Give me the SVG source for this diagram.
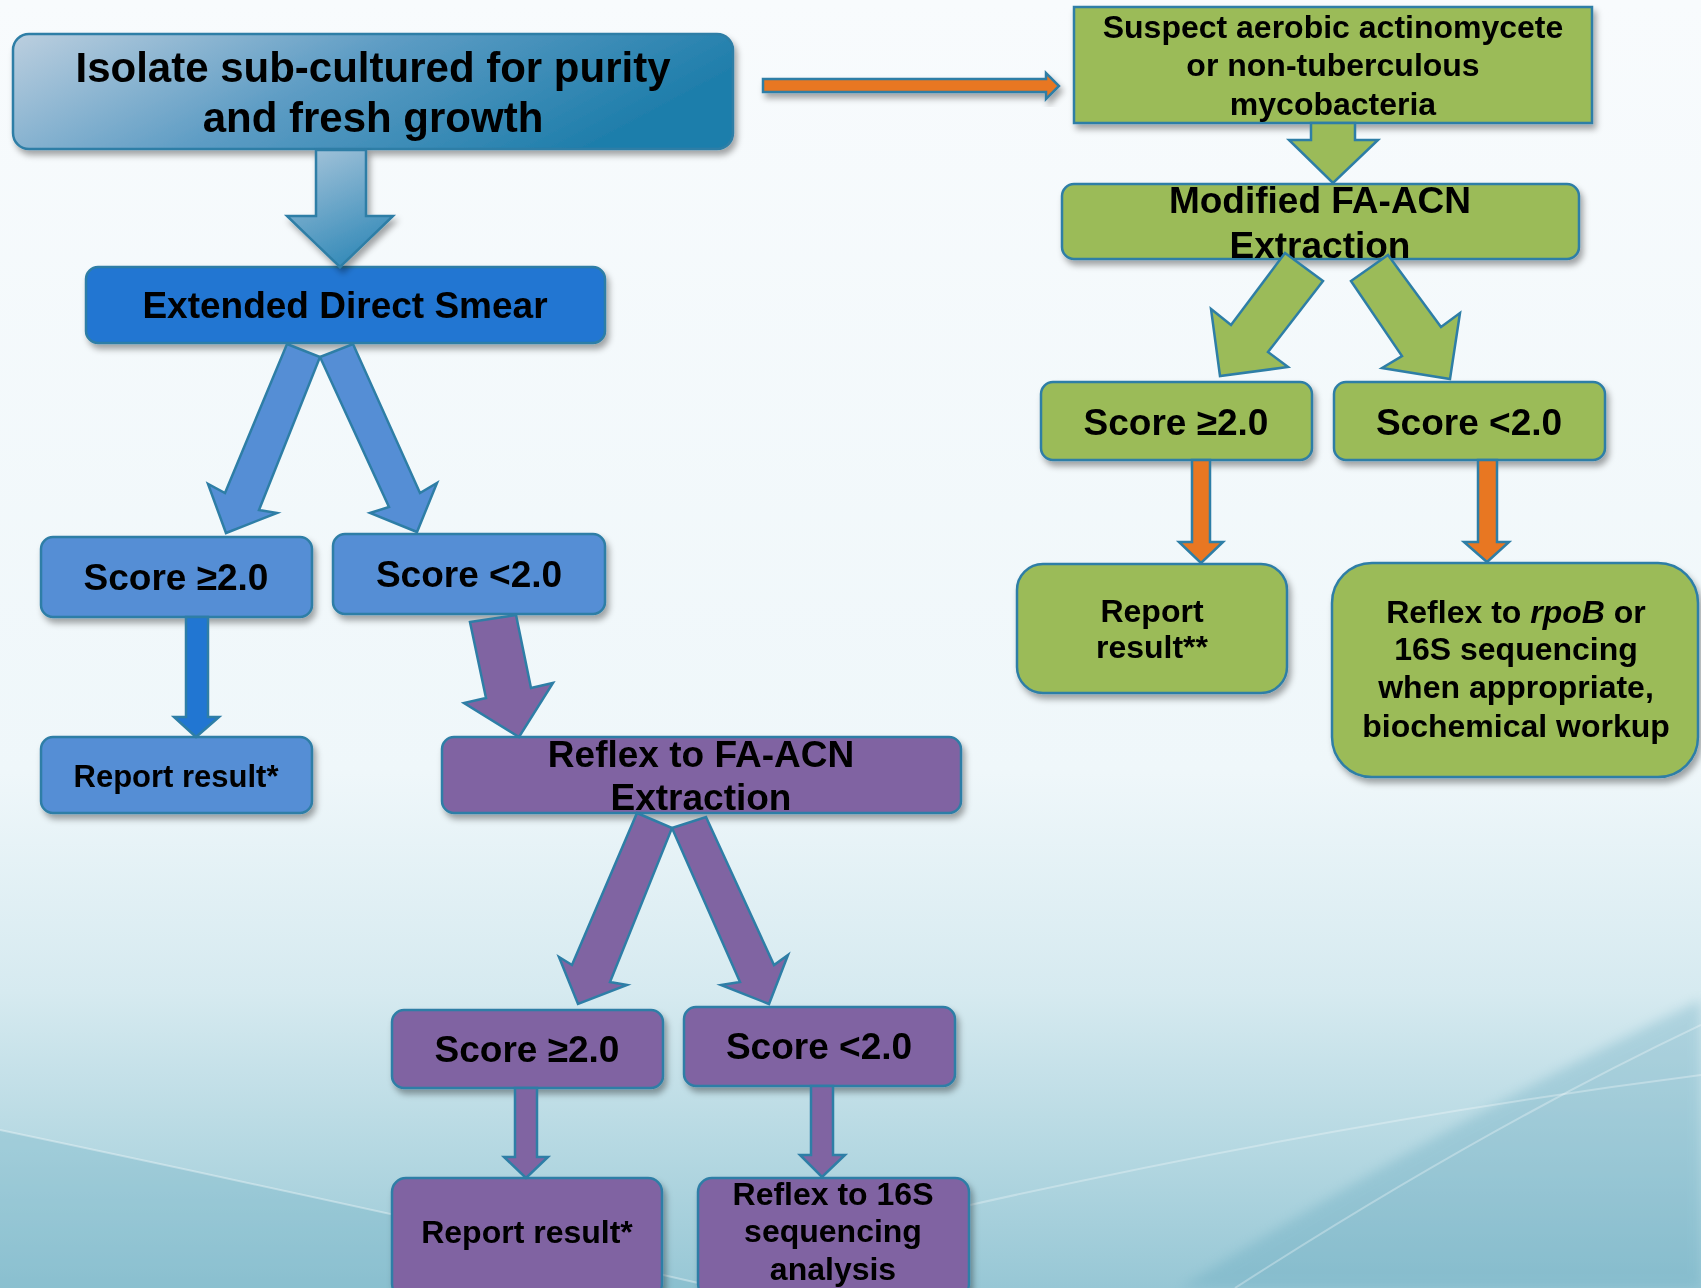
<svg xmlns="http://www.w3.org/2000/svg" width="1701" height="1288" viewBox="0 0 1701 1288">
<defs>
<linearGradient id="bg" x1="0" y1="0" x2="0" y2="1">
<stop offset="0" stop-color="#f8fbfd"/>
<stop offset="0.6" stop-color="#eff7fa"/>
<stop offset="0.77" stop-color="#d6eaf0"/>
<stop offset="0.9" stop-color="#b3d7e1"/>
<stop offset="1" stop-color="#97c7d5"/>
</linearGradient>
<linearGradient id="topg" x1="0" y1="0" x2="1" y2="0.3">
<stop offset="0" stop-color="#bccfdf"/>
<stop offset="0.5" stop-color="#5d9cc4"/>
<stop offset="1" stop-color="#1f7eab"/>
</linearGradient>
<linearGradient id="arrg" x1="0" y1="0" x2="0.4" y2="1">
<stop offset="0" stop-color="#a9c6db"/>
<stop offset="1" stop-color="#3a8dba"/>
</linearGradient>
<filter id="sh" x="-10%" y="-10%" width="125%" height="140%">
<feDropShadow dx="3" dy="5" stdDeviation="3" flood-color="#000" flood-opacity="0.35"/>
</filter>
<filter id="soft" x="-5%" y="-5%" width="110%" height="110%">
<feGaussianBlur stdDeviation="6"/>
</filter>
<style>
.t{font-family:"Liberation Sans",Arial,sans-serif;font-weight:bold;fill:#000;text-anchor:middle}
.s{stroke:#2e7ea6;stroke-width:2.5}
.bd{fill:#2176d2}
.bl{fill:#558ed5}
.pu{fill:#8064a2}
.gr{fill:#9bbb59}
.or{fill:#e87722}
</style>
</defs>
<rect width="1701" height="1288" fill="url(#bg)"/>
<path d="M0,1130 Q380,1210 720,1288 L0,1288 Z" fill="#6eaec3" opacity="0.3"/>
<path d="M1180,1288 Q1450,1120 1701,1000 L1701,1288 Z" fill="#5ea4bb" opacity="0.3" filter="url(#soft)"/>
<path d="M0,1130 Q380,1210 720,1288" fill="none" stroke="#ffffff" stroke-width="2" opacity="0.35"/>
<path d="M970,1205 Q1350,1120 1701,1075" fill="none" stroke="#ffffff" stroke-width="2" opacity="0.3"/>
<path d="M1235,1288 Q1480,1130 1701,1025" fill="none" stroke="#ffffff" stroke-width="2" opacity="0.3"/>

<g id="n-isolate" filter="url(#sh)">
<rect x="13" y="34" width="720" height="115" rx="16" fill="url(#topg)" class="s"/>
<text class="t" x="373" y="82" font-size="42">Isolate sub-cultured for purity</text>
<text class="t" x="373" y="132" font-size="42">and fresh growth</text>
</g>
<g id="n-eds" filter="url(#sh)">
<rect x="86" y="267" width="519" height="76" rx="12" class="bd s"/>
<text class="t" x="345" y="318" font-size="37">Extended Direct Smear</text>
</g>
<g id="n-b-ge" filter="url(#sh)">
<rect x="41" y="537" width="271" height="80" rx="12" class="bl s"/>
<text class="t" x="176" y="590" font-size="37">Score ≥2.0</text>
</g>
<g id="n-b-lt" filter="url(#sh)">
<rect x="333" y="534" width="272" height="80" rx="12" class="bl s"/>
<text class="t" x="469" y="587" font-size="37">Score &lt;2.0</text>
</g>
<g id="n-b-report" filter="url(#sh)">
<rect x="41" y="737" width="271" height="76" rx="12" class="bl s"/>
<text class="t" x="176" y="787" font-size="31">Report result*</text>
</g>
<g id="n-reflex-fa" filter="url(#sh)">
<rect x="442" y="737" width="519" height="76" rx="12" class="pu s"/>
<text class="t" x="701" y="767" font-size="37">Reflex to FA-ACN</text>
<text class="t" x="701" y="810" font-size="37">Extraction</text>
</g>
<g id="n-p-ge" filter="url(#sh)">
<rect x="392" y="1010" width="271" height="78" rx="12" class="pu s"/>
<text class="t" x="527" y="1062" font-size="37">Score ≥2.0</text>
</g>
<g id="n-p-lt" filter="url(#sh)">
<rect x="684" y="1007" width="271" height="79" rx="12" class="pu s"/>
<text class="t" x="819" y="1059" font-size="37">Score &lt;2.0</text>
</g>
<g id="n-p-report" filter="url(#sh)">
<rect x="392" y="1178" width="270" height="120" rx="14" class="pu s"/>
<text class="t" x="527" y="1243" font-size="32">Report result*</text>
</g>
<g id="n-p-16s" filter="url(#sh)">
<rect x="698" y="1178" width="271" height="120" rx="14" class="pu s"/>
<text class="t" x="833" y="1205" font-size="32">Reflex to 16S</text>
<text class="t" x="833" y="1242" font-size="32">sequencing</text>
<text class="t" x="833" y="1280" font-size="32">analysis</text>
</g>
<g id="n-suspect" filter="url(#sh)">
<rect x="1074" y="7" width="518" height="116" class="gr s"/>
<text class="t" x="1333" y="38" font-size="32">Suspect aerobic actinomycete</text>
<text class="t" x="1333" y="76" font-size="32">or non-tuberculous</text>
<text class="t" x="1333" y="115" font-size="32">mycobacteria</text>
</g>
<g id="n-modified" filter="url(#sh)">
<rect x="1062" y="184" width="517" height="75" rx="12" class="gr s"/>
<text class="t" x="1320" y="213" font-size="37">Modified FA-ACN</text>
<text class="t" x="1320" y="258" font-size="37">Extraction</text>
</g>
<g id="n-g-ge" filter="url(#sh)">
<rect x="1041" y="382" width="271" height="78" rx="12" class="gr s"/>
<text class="t" x="1176" y="435" font-size="37">Score ≥2.0</text>
</g>
<g id="n-g-lt" filter="url(#sh)">
<rect x="1334" y="382" width="271" height="78" rx="12" class="gr s"/>
<text class="t" x="1469" y="435" font-size="37">Score &lt;2.0</text>
</g>
<g id="n-g-report" filter="url(#sh)">
<rect x="1017" y="564" width="270" height="129" rx="26" class="gr s"/>
<text class="t" x="1152" y="622" font-size="32">Report</text>
<text class="t" x="1152" y="658" font-size="32">result**</text>
</g>
<g id="n-g-rpob" filter="url(#sh)">
<rect x="1332" y="563" width="366" height="214" rx="40" class="gr s"/>
<text class="t" x="1516" y="623" font-size="32">Reflex to <tspan font-style="italic">rpoB</tspan> or</text>
<text class="t" x="1516" y="660" font-size="32">16S sequencing</text>
<text class="t" x="1516" y="698" font-size="32">when appropriate,</text>
<text class="t" x="1516" y="737" font-size="32">biochemical workup</text>
</g>

<g id="connectors" stroke-linejoin="miter">
<polygon filter="url(#sh)" points="316,150 366,150 366,216 393,216 340,267 287,216 316,216" fill="url(#arrg)" class="s"/>
<polygon points="287,344 320,357 259,510 277,513 226,533 208,484 225,493" class="bl s"/>
<polygon points="320,357 353,344 420,493 437,483 417,532 370,513 389,507" class="bl s"/>
<polygon points="186,617 208,617 208,717 219,717 196,737 174,717 186,717" class="bd s"/>
<polygon points="470,622 516,615 531,688 553,683 519,737 464,703 486,698" class="pu s"/>
<polygon points="637,813 672,828 610,982 627,985 578,1004 559,957 572,965" class="pu s"/>
<polygon points="672,828 706,817 774,965 788,955 769,1004 721,985 740,982" class="pu s"/>
<polygon points="515,1088 537,1088 537,1157 548,1157 526,1178 504,1157 515,1157" class="pu s"/>
<polygon points="811,1086 833,1086 833,1155 845,1155 822,1177 800,1155 811,1155" class="pu s"/>
<polygon filter="url(#sh)" points="763,79 1046,79 1046,73 1059,86 1046,99 1046,92 763,92" class="or s"/>
<polygon points="1311,123 1355,123 1355,140 1378,140 1333,183 1289,140 1311,140" class="gr s"/>
<polygon points="1285,253 1323,281 1268,352 1288,367 1220,376 1211,309 1231,325" class="gr s"/>
<polygon points="1388,255 1351,281 1402,356 1382,368 1450,379 1460,313 1441,327" class="gr s"/>
<polygon points="1192,460 1210,460 1210,542 1223,542 1201,563 1179,542 1192,542" class="or s"/>
<polygon points="1478,460 1497,460 1497,542 1509,542 1487,562 1464,542 1478,542" class="or s"/>
</g>
</svg>
